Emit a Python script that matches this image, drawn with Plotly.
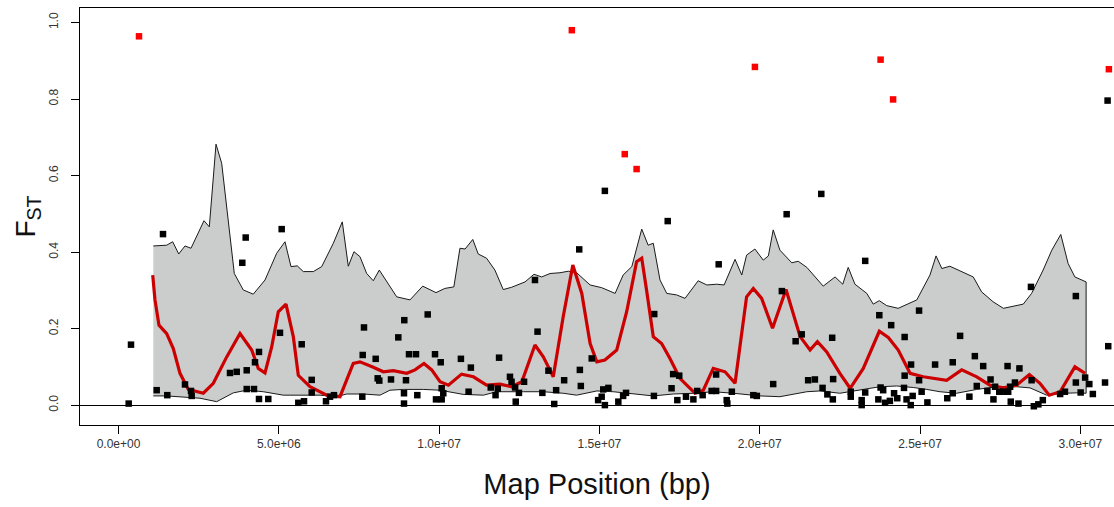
import plotly.graph_objects as go

# ---- data (positions in Mb, converted to bp below) ----
upper_mb = [1.085, 1.503, 1.690, 1.878, 2.074, 2.261, 2.667, 2.832, 3.041, 3.219,
            3.612, 3.892, 4.204, 4.569, 4.934, 5.193, 5.380, 5.577, 5.764, 6.076,
            6.338, 6.700, 6.980, 7.168, 7.345, 7.532, 7.741, 7.947, 8.134, 8.415,
            8.677, 9.092, 9.488, 9.903, 10.18, 10.46, 10.65, 10.81, 11.05, 11.22,
            11.48, 11.74, 12.00, 12.26, 12.68, 12.96, 13.20, 13.46, 13.77, 14.03,
            14.29, 14.71, 15.07, 15.49, 15.74, 16.01, 16.32, 16.52, 16.68, 16.89,
            17.10, 17.41, 17.67, 18.08, 18.35, 18.66, 18.89, 19.23, 19.44, 19.59,
            19.85, 20.11, 20.27, 20.42, 20.63, 21.00, 21.20, 21.47, 21.98, 22.35,
            22.59, 22.76, 22.97, 23.34, 23.54, 23.73, 23.96, 24.32, 24.90, 25.31,
            25.50, 25.68, 25.93, 26.66, 26.92, 27.28, 27.60, 28.22, 28.48, 28.84,
            29.11, 29.39, 29.62, 29.83, 30.18]
upper_fst = [0.416, 0.418, 0.427, 0.395, 0.416, 0.410, 0.482, 0.466, 0.682, 0.632,
             0.344, 0.301, 0.290, 0.327, 0.397, 0.427, 0.362, 0.364, 0.349, 0.349,
             0.362, 0.423, 0.479, 0.363, 0.401, 0.388, 0.344, 0.325, 0.353, 0.318,
             0.283, 0.275, 0.311, 0.294, 0.305, 0.309, 0.410, 0.408, 0.433, 0.395,
             0.384, 0.353, 0.302, 0.308, 0.322, 0.342, 0.335, 0.344, 0.346, 0.350,
             0.346, 0.314, 0.307, 0.292, 0.340, 0.362, 0.460, 0.418, 0.423, 0.327,
             0.292, 0.288, 0.279, 0.325, 0.314, 0.316, 0.314, 0.381, 0.340, 0.392,
             0.408, 0.379, 0.390, 0.458, 0.405, 0.372, 0.376, 0.360, 0.311, 0.335,
             0.316, 0.360, 0.316, 0.292, 0.264, 0.273, 0.260, 0.253, 0.275, 0.340,
             0.390, 0.357, 0.363, 0.335, 0.296, 0.270, 0.253, 0.264, 0.292, 0.353,
             0.405, 0.446, 0.370, 0.335, 0.322]

lower_mb = [1.085, 1.503, 1.918, 2.542, 3.063, 3.581, 3.999, 4.516, 5.140, 5.558,
            6.285, 6.806, 7.118, 7.635, 8.156, 8.468, 8.883, 9.507, 10.03, 10.75,
            11.38, 11.80, 12.63, 13.25, 13.87, 14.29, 14.92, 15.43, 15.95, 16.68,
            17.30, 17.93, 18.55, 19.18, 20.01, 20.63, 21.47, 21.88, 22.50, 22.82,
            23.23, 23.75, 24.27, 24.79, 25.21, 25.62, 26.14, 26.77, 27.39, 28.01,
            28.43, 28.95, 29.47, 29.89, 30.18]
lower_fst = [0.024, 0.024, 0.022, 0.018, 0.009, 0.032, 0.039, 0.035, 0.026, 0.026,
             0.026, 0.022, 0.029, 0.029, 0.026, 0.039, 0.041, 0.041, 0.039, 0.028,
             0.026, 0.035, 0.035, 0.035, 0.031, 0.026, 0.037, 0.035, 0.031, 0.024,
             0.029, 0.031, 0.035, 0.031, 0.024, 0.022, 0.035, 0.037, 0.031, 0.035,
             0.041, 0.048, 0.050, 0.046, 0.041, 0.035, 0.031, 0.041, 0.048, 0.048,
             0.045, 0.026, 0.031, 0.032, 0.031]

smooth_mb = [1.067, 1.138, 1.263, 1.503, 1.709, 1.918, 2.177, 2.645, 2.957, 3.375,
             3.790, 4.155, 4.360, 4.569, 4.778, 4.984, 5.224, 5.452, 5.608, 5.973,
             6.494, 6.909, 7.323, 7.532, 7.947, 8.259, 8.571, 8.989, 9.248, 9.528,
             9.769, 10.03, 10.29, 10.70, 11.07, 11.48, 11.90, 12.26, 12.58, 12.99,
             13.25, 13.56, 13.87, 14.17, 14.45, 14.71, 14.92, 15.17, 15.54, 15.85,
             16.16, 16.32, 16.47, 16.68, 16.94, 17.20, 17.51, 17.98, 18.24, 18.55,
             18.92, 19.23, 19.59, 19.80, 20.06, 20.40, 20.82, 21.26, 21.57, 21.80,
             22.09, 22.50, 22.82, 23.23, 23.73, 24.01, 24.32, 24.69, 25.10, 25.83,
             26.30, 26.77, 27.18, 27.60, 28.01, 28.41, 28.74, 29.03, 29.37, 29.83,
             30.15]
smooth_fst = [0.340, 0.275, 0.209, 0.187, 0.148, 0.083, 0.041, 0.031, 0.057, 0.126,
              0.187, 0.144, 0.096, 0.084, 0.152, 0.244, 0.264, 0.179, 0.078, 0.048,
              0.026, 0.022, 0.109, 0.113, 0.099, 0.087, 0.090, 0.083, 0.092, 0.109,
              0.092, 0.061, 0.052, 0.081, 0.074, 0.052, 0.055, 0.048, 0.061, 0.157,
              0.126, 0.074, 0.231, 0.366, 0.292, 0.161, 0.113, 0.118, 0.144, 0.244,
              0.375, 0.384, 0.301, 0.179, 0.161, 0.122, 0.070, 0.031, 0.039, 0.096,
              0.087, 0.057, 0.283, 0.305, 0.279, 0.201, 0.302, 0.179, 0.144, 0.166,
              0.139, 0.083, 0.044, 0.096, 0.193, 0.177, 0.144, 0.083, 0.074, 0.065,
              0.092, 0.074, 0.052, 0.045, 0.052, 0.080, 0.057, 0.026, 0.035, 0.100,
              0.083]

snp_mb = [0.39, 0.318, 1.388, 1.191, 1.522, 2.074, 2.261, 2.283, 3.861, 3.967,
          5.090, 5.037, 5.714, 4.382, 4.257, 3.478, 3.687, 3.999, 3.999, 4.226,
          4.382, 4.672, 6.026, 6.026, 5.608, 5.786, 6.472, 6.597, 6.721, 7.604,
          7.657, 7.617, 8.022, 8.084, 8.134, 8.499, 8.727, 8.914, 9.061, 9.279,
          8.967, 8.905, 8.905, 9.320, 9.644, 9.872, 10.05, 10.08, 10.13, 9.903,
          10.08, 10.68, 10.99, 10.92, 11.61, 11.76, 11.83, 11.87, 12.21, 12.26,
          12.37, 12.49, 12.39, 12.65, 12.99, 13.07, 13.41, 13.22, 13.59, 13.65,
          13.90, 14.39, 14.42, 14.37, 14.76, 15.17, 14.96, 15.12, 15.28, 15.07,
          15.17, 15.59, 15.74, 15.83, 16.71, 16.70, 17.13, 17.30, 17.49, 17.25,
          17.43, 17.70, 17.93, 18.05, 18.22, 18.50, 18.64, 18.64, 18.72, 18.97,
          18.99, 19.13, 19.80, 19.91, 20.42, 20.69, 20.84, 21.12, 21.31, 21.51,
          21.72, 21.92, 21.96, 22.11, 22.28, 22.26, 22.29, 22.84, 22.84, 23.18,
          23.18, 23.29, 23.29, 23.73, 23.77, 23.85, 23.70, 23.91, 24.06, 24.19,
          24.29, 24.10, 24.52, 24.52, 24.50, 24.58, 24.71, 24.77, 24.72, 24.97,
          24.97, 25.05, 25.23, 25.47, 25.85, 26.02, 26.02, 26.25, 26.54, 26.71,
          26.77, 26.97, 27.10, 27.20, 27.29, 27.34, 27.47, 27.60, 27.73, 27.75,
          27.81, 27.83, 27.96, 28.10, 28.07, 28.46, 28.48, 28.55, 28.69, 28.83,
          29.37, 29.52, 29.86, 29.86, 30.01, 30.15, 30.28, 30.39, 30.77, 30.87,
          30.85]
snp_fst = [0.158, 0.004, 0.447, 0.039, 0.026, 0.054, 0.037, 0.024, 0.372, 0.438,
           0.460, 0.189, 0.159, 0.139, 0.112, 0.084, 0.087, 0.091, 0.042, 0.042,
           0.016, 0.016, 0.066, 0.033, 0.006, 0.010, 0.010, 0.022, 0.026, 0.022,
           0.203, 0.131, 0.121, 0.070, 0.064, 0.067, 0.177, 0.222, 0.133, 0.133,
           0.065, 0.031, 0.004, 0.026, 0.237, 0.133, 0.112, 0.044, 0.031, 0.015,
           0.015, 0.121, 0.098, 0.035, 0.046, 0.026, 0.043, 0.124, 0.074, 0.061,
           0.046, 0.032, 0.009, 0.061, 0.327, 0.192, 0.090, 0.032, 0.003, 0.039,
           0.065, 0.092, 0.050, 0.407, 0.122, 0.560, 0.013, 0.041, 0.045, 0.022,
           0.000, 0.009, 0.024, 0.032, 0.238, 0.024, 0.481, 0.081, 0.077, 0.044,
           0.013, 0.022, 0.015, 0.037, 0.026, 0.037, 0.037, 0.080, 0.368, 0.013,
           0.004, 0.035, 0.026, 0.024, 0.055, 0.298, 0.499, 0.167, 0.185, 0.065,
           0.067, 0.552, 0.045, 0.028, 0.015, 0.176, 0.068, 0.035, 0.022, 0.013,
           0.000, 0.377, 0.033, 0.235, 0.046, 0.039, 0.015, 0.006, 0.011, 0.031,
           0.018, 0.209, 0.178, 0.077, 0.045, 0.015, 0.000, 0.024, 0.106, 0.247,
           0.065, 0.035, 0.007, 0.106, 0.018, 0.112, 0.031, 0.181, 0.022, 0.128,
           0.050, 0.102, 0.037, 0.067, 0.015, 0.048, 0.035, 0.035, 0.102, 0.035,
           0.048, 0.009, 0.059, 0.096, 0.004, 0.309, 0.065, -0.003, 0.002, 0.013,
           0.029, 0.035, 0.285, 0.059, 0.033, 0.072, 0.055, 0.029, 0.059, 0.154,
           0.796]

outlier_mb = [0.639, 14.14, 15.79, 16.16, 19.85, 23.77, 24.16, 30.89]
outlier_fst = [0.964, 0.980, 0.656, 0.617, 0.884, 0.903, 0.799, 0.878]

tick_vals = [0, 5e6, 1e7, 1.5e7, 2e7, 2.5e7, 3e7]
tick_text = ["0.0e+00", "5.0e+06", "1.0e+07", "1.5e+07", "2.0e+07", "2.5e+07", "3.0e+07"]

MB = 1e6
to_bp = lambda v: [m * MB for m in v]

font = "Liberation Sans, Arial, sans-serif"

fig = go.Figure()

# grey quantile band
fig.add_trace(go.Scatter(
    x=to_bp(upper_mb) + to_bp(lower_mb)[::-1],
    y=upper_fst + lower_fst[::-1],
    fill="toself", fillcolor="#cbcdcd",
    line=dict(color="#1a1a1a", width=1),
    mode="lines", hoverinfo="skip"
))

# smoothed mean
fig.add_trace(go.Scatter(
    x=to_bp(smooth_mb), y=smooth_fst, mode="lines",
    line=dict(color="#cc0000", width=3.2)
))

# loci
fig.add_trace(go.Scatter(
    x=to_bp(snp_mb), y=snp_fst, mode="markers",
    marker=dict(symbol="square", size=6.5, color="black", line=dict(width=0))
))
fig.add_trace(go.Scatter(
    x=to_bp(outlier_mb), y=outlier_fst, mode="markers",
    marker=dict(symbol="square", size=6.5, color="#ff0000", line=dict(width=0))
))

fig.update_layout(
    width=1114, height=507,
    margin=dict(l=80, r=0, t=8, b=82),
    plot_bgcolor="white", paper_bgcolor="white",
    showlegend=False,
    font=dict(family=font, color="#222"),
    xaxis=dict(
        range=[-1.2008e6, 3.105e7], automargin=False,
        tickvals=tick_vals, ticktext=tick_text,
        ticks="outside", ticklen=8, tickcolor="black",
        tickfont=dict(size=12, color="#333"),
        showline=True, linecolor="black", linewidth=1, mirror=True,
        showgrid=False, zeroline=False,
        title=dict(text="Map Position (bp)", font=dict(size=29, color="#111"),
                   standoff=23),
    ),
    yaxis=dict(
        range=[-0.052, 1.038], automargin=False,
        tickvals=[0, 0.2, 0.4, 0.6, 0.8, 1.0],
        tickformat=".1f", tickangle=-90,
        ticks="outside", ticklen=8, tickcolor="black",
        tickfont=dict(size=12, color="#333"), ticklabelstandoff=8,
        showline=True, linecolor="black", linewidth=1, mirror=False,
        showgrid=False,
        zeroline=True, zerolinecolor="black", zerolinewidth=1,
        title=dict(text="F<sub>ST</sub>", font=dict(size=28, color="#111"),
                   standoff=3),
    ),
)

# drop the default page margin so the figure fills the window exactly
fig.write_html("out.html", config={"displayModeBar": False},
               post_script="document.body.style.margin='0';"
               "document.body.style.overflow='hidden';")
